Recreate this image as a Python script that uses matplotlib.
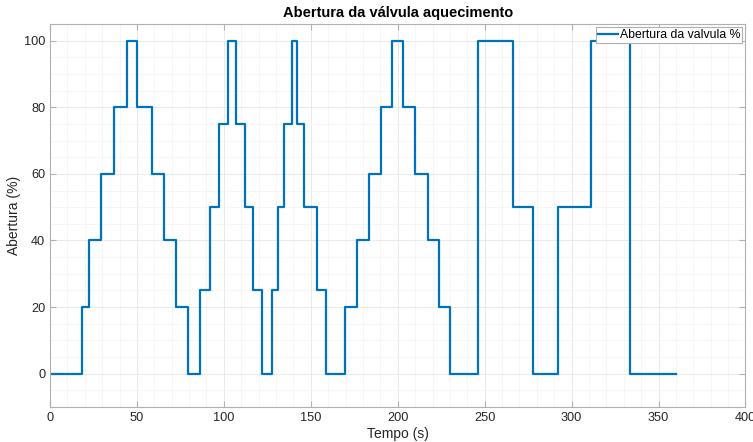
import matplotlib.pyplot as plt
from matplotlib.ticker import MultipleLocator

plt.rcParams['font.family'] = ['Liberation Sans', 'DejaVu Sans']

# instantes de mudanca (s) e abertura da valvula (%)
tempo = [0, 18.4, 22.6, 29.3, 36.9, 44.4, 50.3, 58.5, 65.4, 72.3, 79.6,
         86.1, 91.8, 97.2, 102.5, 107.1, 111.9, 116.9, 122.2,
         127.6, 131.2, 134.7, 138.9, 141.9, 146.3, 153.8, 158.8,
         169.5, 176.6, 183.5, 190.3, 196.7, 203.2, 210.2, 217.3, 223.8, 230.3,
         246.4, 266.1, 277.6, 292.1, 310.9, 333.8, 360]
abertura = [0, 20, 40, 60, 80, 100, 80, 60, 40, 20, 0,
            25, 50, 75, 100, 75, 50, 25, 0,
            25, 50, 75, 100, 75, 50, 25, 0,
            20, 40, 60, 80, 100, 80, 60, 40, 20, 0,
            100, 50, 0, 50, 100, 0, 0]

fig = plt.figure(figsize=(7.53, 4.42), dpi=100)
ax = fig.add_axes([0.0664, 0.0792, 0.9236, 0.8665])

ax.step(tempo, abertura, where='post', color='#0072BD', linewidth=1.6,
        label='Abertura da valvula %')

ax.set_xlim(0, 400)
ax.set_ylim(-10, 105)
ax.xaxis.set_major_locator(MultipleLocator(50))
ax.xaxis.set_minor_locator(MultipleLocator(10))
ax.yaxis.set_major_locator(MultipleLocator(20))
ax.yaxis.set_minor_locator(MultipleLocator(5))

ax.grid(True, which='major', color='#e6e6e6', linewidth=0.6)
ax.grid(True, which='minor', color='#f3f3f3', linewidth=0.5)
ax.set_axisbelow(True)

for s in ax.spines.values():
    s.set_color('#b0b0b0')
    s.set_linewidth(0.8)
ax.tick_params(which='major', direction='in', length=4, color='#b0b0b0',
               labelcolor='#262626', labelsize=9.2, top=True, right=True)
ax.tick_params(which='minor', length=0)

ax.set_xlabel('Tempo (s)', fontsize=10, color='#262626', labelpad=2)
ax.set_ylabel('Abertura (%)', fontsize=10, color='#262626', labelpad=2)
ax.set_title('Abertura da válvula aquecimento', fontsize=10.5,
             fontweight='bold', color='#000000', pad=5)

leg = ax.legend(loc='upper right', fontsize=8.8, borderaxespad=0.25,
                handlelength=1.6, handletextpad=0.2, borderpad=0.15,
                fancybox=False, framealpha=1)
leg.get_frame().set_edgecolor('#b0b0b0')
leg.get_frame().set_linewidth(0.8)

fig.savefig('out.png', dpi=100)
